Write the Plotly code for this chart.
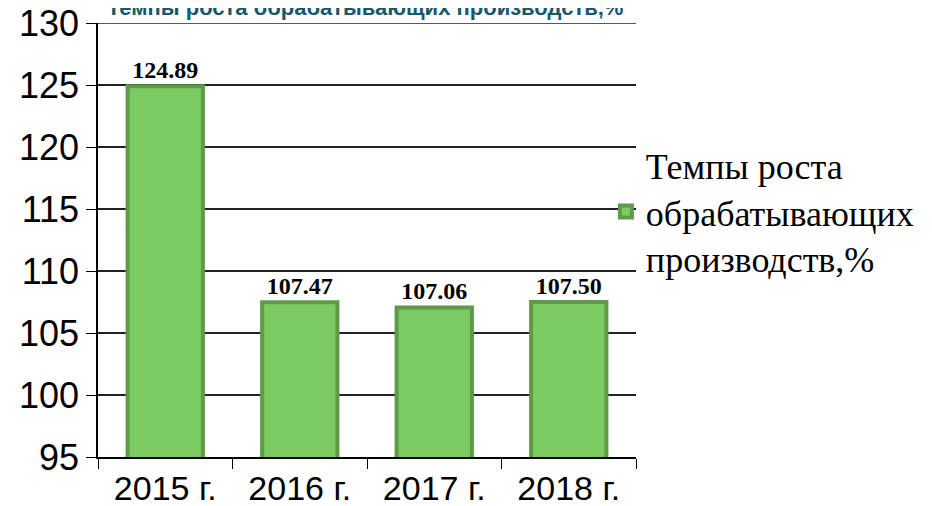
import plotly.graph_objects as go

# Data
years = ["2015 г.", "2016 г.", "2017 г.", "2018 г."]
growth = [124.89, 107.47, 107.06, 107.50]
series_name = "Темпы роста<br>обрабатывающих<br>производств,%"
title_text = "Темпы роста обрабатывающих производств,%"
y_min, y_max = 95, 130

fig = go.Figure()
fig.add_trace(go.Bar(
    x=years, y=growth, name=series_name,
    marker=dict(color="#7CCB62", line=dict(color="#5E9A48", width=4)),
    width=0.56,
    texttemplate="<b>%{y:.2f}</b>", textposition="outside",
    textfont=dict(family="Liberation Serif", size=24, color="black"),
    cliponaxis=False,
    showlegend=True,
))

# Title, sitting right at the top edge like the reference
fig.add_annotation(
    text="<b>" + title_text + "</b>", xref="paper", yref="paper",
    x=0.5, y=1, yanchor="middle", yshift=16, xshift=-2, showarrow=False,
    font=dict(family="Liberation Sans", size=22, color="#17596B"),
)

# top gridline (plotly drops the one at the range edge)
fig.add_shape(type="line", xref="paper", yref="y", x0=0, x1=1,
              y0=y_max, y1=y_max, line=dict(color="#222222", width=1.5))

# page body has an 8px margin, so the margins are offset by it
fig.update_layout(
    width=932, height=506,
    margin=dict(l=90, r=304, t=15, b=57),
    plot_bgcolor="white", paper_bgcolor="white",
    bargap=0.44,
    showlegend=True,
    legend=dict(x=0.944, y=0.565, xanchor="left", yanchor="middle",
                font=dict(family="Liberation Serif", size=36, color="black"),
                itemwidth=30, bgcolor="rgba(0,0,0,0)"),
)
fig.update_yaxes(
    range=[y_min, y_max], dtick=5, tick0=y_min, automargin=False,
    ticklabeloverflow="allow",
    showgrid=True, gridcolor="#222222", gridwidth=1.5,
    showline=True, linecolor="black", linewidth=1.5,
    ticks="outside", ticklen=10, tickcolor="black",
    tickfont=dict(family="Liberation Sans", size=36, color="black"),
    zeroline=False,
)
fig.update_xaxes(
    automargin=False,
    showline=True, linecolor="black", linewidth=1.5, mirror=False,
    ticks="outside", ticklen=10, tickcolor="black", tickson="boundaries",
    tickfont=dict(family="Liberation Sans", size=34, color="black"),
    showgrid=False,
)

fig.write_html("out.html")
